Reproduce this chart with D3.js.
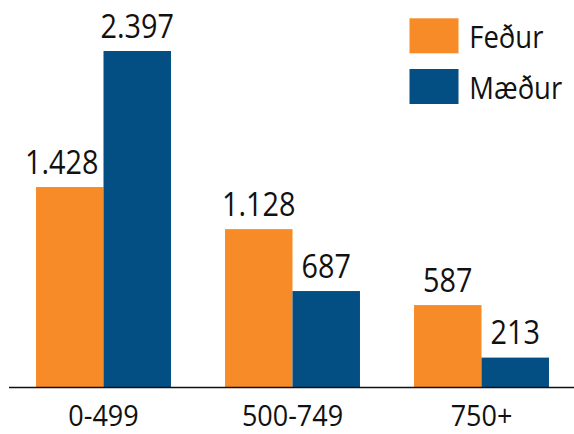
<!DOCTYPE html>
<html>
<head>
<meta charset="utf-8">
<script src="https://cdn.jsdelivr.net/npm/d3@7"></script>
<style>
  html, body { margin: 0; padding: 0; background: #fff; }
  svg { display: block; }
  text { font-family: "Open Sans", "Noto Sans", sans-serif; fill: #111; }
</style>
</head>
<body>
<svg id="chart" width="574" height="434"></svg>
<script>
const categories = ["0-499", "500-749", "750+"];
const seriesNames = ["Feður", "Mæður"];
const fathers = [1428, 1128, 587];
const mothers = [2397, 687, 213];
const colors = ["#f78b27", "#034f84"];

const series = [fathers, mothers];
const fmt = v => d3.format(",")(v).replace(/,/g, ".");
const SX = 0.9; // horizontal condensing to mimic a narrower humanist face

const svg = d3.select("#chart");

const x0 = d3.scaleBand().domain(categories).range([9, 576]).paddingInner(0.286).paddingOuter(0.143);
const x1 = d3.scaleBand().domain(seriesNames).range([0, x0.bandwidth()]).padding(0);
const y = d3.scaleLinear().domain([0, 2397]).range([387.5, 51]);

const groups = svg.selectAll("g.grp").data(categories).join("g")
  .attr("class", "grp")
  .attr("transform", d => `translate(${x0(d)},0)`);

seriesNames.forEach((s, si) => {
  groups.append("rect")
    .attr("x", x1(s))
    .attr("width", x1.bandwidth())
    .attr("y", (d, i) => y(series[si][i]))
    .attr("height", (d, i) => y(0) - y(series[si][i]))
    .attr("fill", colors[si]);
});

seriesNames.forEach((s, si) => {
  groups.append("text")
    .attr("text-anchor", "middle")
    .attr("font-size", 32)
    .text((d, i) => fmt(series[si][i]))
    .attr("transform", function (d, i) {
      let cx = x1(s) + x1.bandwidth() / 2;
      const by = y(series[si][i]) - 13.5;
      // avoid colliding with a taller neighbouring bar on the right
      if (si < seriesNames.length - 1) {
        const nextTop = y(series[si + 1][i]);
        const w = this.getComputedTextLength() * SX;
        const limit = x1(seriesNames[si + 1]) - 5;
        if (nextTop < by && cx + w / 2 > limit) cx = limit - w / 2;
      }
      return `translate(${cx},${by}) scale(${SX},1)`;
    });
});

// baseline axis
const xAxis = d3.axisBottom(x0).tickSize(0).tickPadding(0);
const ax = svg.append("g").attr("transform", `translate(0,${y(0)})`).call(xAxis);
ax.select(".domain").attr("stroke", "#111").attr("stroke-width", 1.4).attr("d", "M9,0H576");
ax.selectAll(".tick text")
  .attr("y", 38.5).attr("dy", 0)
  .attr("transform", `scale(${SX},1)`)
  .attr("font-size", 30).attr("fill", "#111")
  .attr("font-family", '"Open Sans", "Noto Sans", sans-serif');

// legend
const legend = svg.append("g");
seriesNames.forEach((s, i) => {
  const gy = 18.3 + i * 50.7;
  legend.append("rect").attr("x", 409.5).attr("y", gy).attr("width", 49).attr("height", 35).attr("fill", colors[i]);
  legend.append("text")
    .attr("transform", `translate(469.3,${gy + 30}) scale(${SX},1)`)
    .attr("font-size", 30.5).text(s);
});
</script>
</body>
</html>
